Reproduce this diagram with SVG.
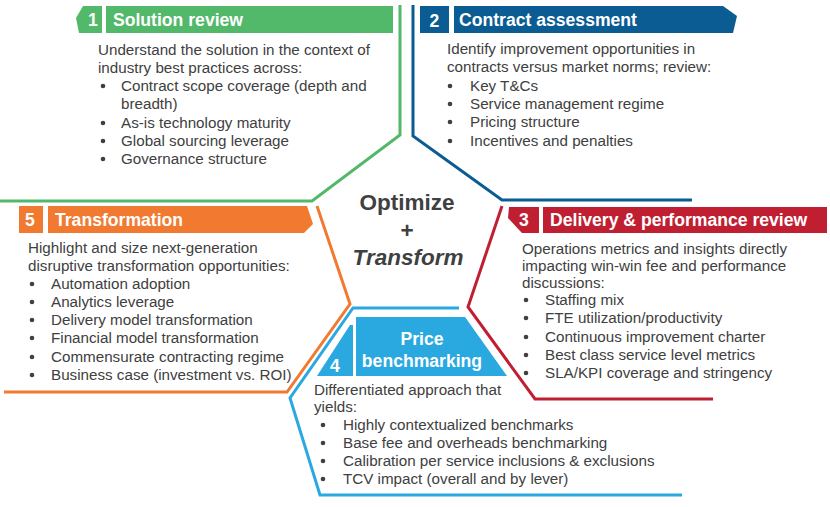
<svg xmlns="http://www.w3.org/2000/svg" width="830" height="507" viewBox="0 0 830 507">
<style>
text{font-family:"Liberation Sans",Arial,sans-serif}
.b{font-size:15.2px;fill:#404040}
.t{font-size:17.6px;font-weight:bold;fill:#fff}
.c{font-size:22.5px;font-weight:bold;fill:#404040;text-anchor:middle}
.ln{fill:none;stroke-width:3;stroke-linejoin:miter}
.d{fill:#404040}
</style>
<rect width="830" height="507" fill="#fff"/>
<g id="connectors">
<path class="ln" stroke="#52B86A" d="M400,5 V135 L312,201 H0"/>
<path class="ln" stroke="#0B5C92" d="M413,5 V136 L502,200 H692"/>
<path class="ln" stroke="#C01F32" d="M502,206 L468,307 L535,399 H713"/>
<path class="ln" stroke="#F27A30" d="M317,206 L350,304 L287,392 H4"/>
<path class="ln" stroke="#2AA8E0" d="M459,308 H353 L290,398 L320,495 H682"/>
</g>
<g id="center">
<text class="c" x="407" y="210">Optimize</text>
<text class="c" x="407" y="238">+</text>
<text class="c" x="408" y="265" font-style="italic">Transform</text>
</g>
<g id="node1">
<polygon fill="#52B86A" points="83,6 102,6 102,33 79,33 76,18"/>
<rect fill="#52B86A" x="106" y="6" width="287" height="27"/>
<text class="t" x="93" y="26" text-anchor="middle">1</text>
<text class="t" x="113" y="26">Solution review</text>
<text class="b" x="98" y="55">Understand the solution in the context of</text>
<text class="b" x="98" y="73">industry best practices across:</text>
<circle class="d" cx="103" cy="86" r="2.3"/>
<text class="b" x="121" y="91">Contract scope coverage (depth and</text>
<text class="b" x="121" y="109">breadth)</text>
<circle class="d" cx="103" cy="123" r="2.3"/>
<text class="b" x="121" y="128">As-is technology maturity</text>
<circle class="d" cx="103" cy="141" r="2.3"/>
<text class="b" x="121" y="146">Global sourcing leverage</text>
<circle class="d" cx="103" cy="159" r="2.3"/>
<text class="b" x="121" y="164">Governance structure</text>
</g>
<g id="node2">
<rect fill="#0B5C92" x="420" y="6" width="29" height="27"/>
<polygon fill="#0B5C92" points="454,6 723,6 737,16 733,33 454,33"/>
<text class="t" x="434.5" y="27" text-anchor="middle">2</text>
<text class="t" x="459" y="26">Contract assessment</text>
<text class="b" x="447" y="54">Identify improvement opportunities in</text>
<text class="b" x="447" y="72">contracts versus market norms; review:</text>
<circle class="d" cx="450" cy="86" r="2.3"/>
<text class="b" x="470" y="91">Key T&amp;Cs</text>
<circle class="d" cx="450" cy="104" r="2.3"/>
<text class="b" x="470" y="109">Service management regime</text>
<circle class="d" cx="450" cy="122" r="2.3"/>
<text class="b" x="470" y="127">Pricing structure</text>
<circle class="d" cx="450" cy="141" r="2.3"/>
<text class="b" x="470" y="146">Incentives and penalties</text>
</g>
<g id="node3">
<polygon fill="#C01F32" points="509,207 539,207 539,233 522,233 508,218"/>
<rect fill="#C01F32" x="543" y="207" width="284" height="26"/>
<text class="t" x="524" y="226" text-anchor="middle">3</text>
<text class="t" x="550" y="226">Delivery &amp; performance review</text>
<text class="b" x="522" y="254">Operations metrics and insights directly</text>
<text class="b" x="522" y="271">impacting win-win fee and performance</text>
<text class="b" x="522" y="288">discussions:</text>
<circle class="d" cx="526" cy="300" r="2.3"/>
<text class="b" x="545" y="305">Staffing mix</text>
<circle class="d" cx="526" cy="318" r="2.3"/>
<text class="b" x="545" y="323">FTE utilization/productivity</text>
<circle class="d" cx="526" cy="337" r="2.3"/>
<text class="b" x="545" y="342">Continuous improvement charter</text>
<circle class="d" cx="526" cy="355" r="2.3"/>
<text class="b" x="545" y="360">Best class service level metrics</text>
<circle class="d" cx="526" cy="373" r="2.3"/>
<text class="b" x="545" y="378">SLA/KPI coverage and stringency</text>
</g>
<g id="node4">
<polygon fill="#2AA8E0" points="317,376 350,325 353,325 353,376"/>
<polygon fill="#2AA8E0" points="356,317 465,317 507,376 356,376"/>
<text class="t" x="335" y="372" text-anchor="middle">4</text>
<text class="t" x="422" y="345" text-anchor="middle">Price</text>
<text class="t" x="422" y="367" text-anchor="middle">benchmarking</text>
<text class="b" x="314" y="395">Differentiated approach that</text>
<text class="b" x="314" y="412">yields:</text>
<circle class="d" cx="323" cy="425" r="2.3"/>
<text class="b" x="343" y="430">Highly contextualized benchmarks</text>
<circle class="d" cx="323" cy="443" r="2.3"/>
<text class="b" x="343" y="448">Base fee and overheads benchmarking</text>
<circle class="d" cx="323" cy="461" r="2.3"/>
<text class="b" x="343" y="466">Calibration per service inclusions &amp; exclusions</text>
<circle class="d" cx="323" cy="479" r="2.3"/>
<text class="b" x="343" y="484">TCV impact (overall and by lever)</text>
</g>
<g id="node5">
<rect fill="#F27A30" x="19" y="206" width="24" height="27"/>
<polygon fill="#F27A30" points="48,206 307,206 313,224 304,233 48,233"/>
<text class="t" x="30" y="226" text-anchor="middle">5</text>
<text class="t" x="55" y="226">Transformation</text>
<text class="b" x="28" y="253">Highlight and size next-generation</text>
<text class="b" x="28" y="271">disruptive transformation opportunities:</text>
<circle class="d" cx="32" cy="284" r="2.3"/>
<text class="b" x="51" y="289">Automation adoption</text>
<circle class="d" cx="32" cy="302" r="2.3"/>
<text class="b" x="51" y="307">Analytics leverage</text>
<circle class="d" cx="32" cy="320" r="2.3"/>
<text class="b" x="51" y="325">Delivery model transformation</text>
<circle class="d" cx="32" cy="338" r="2.3"/>
<text class="b" x="51" y="343">Financial model transformation</text>
<circle class="d" cx="32" cy="357" r="2.3"/>
<text class="b" x="51" y="362">Commensurate contracting regime</text>
<circle class="d" cx="32" cy="375" r="2.3"/>
<text class="b" x="51" y="380">Business case (investment vs. ROI)</text>
</g>
</svg>
